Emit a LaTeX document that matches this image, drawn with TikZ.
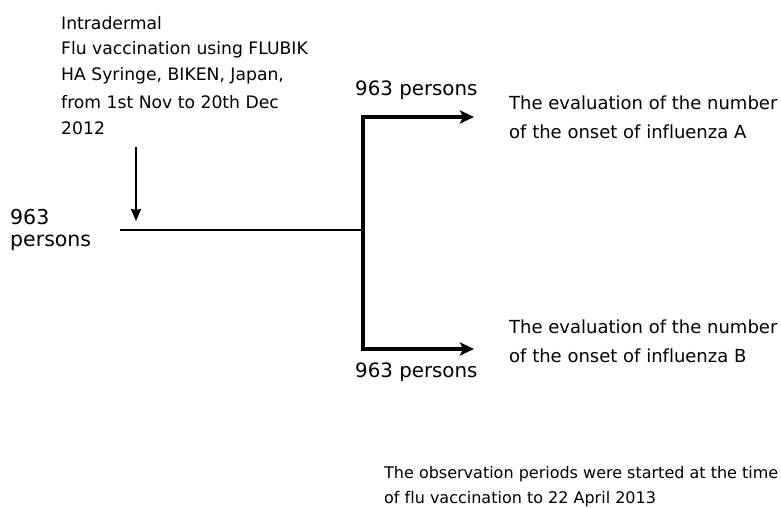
\documentclass[tikz,border=0pt]{standalone}
\usepackage{fontspec}
\setmainfont[Ligatures=NoCommon]{DejaVu Sans}
\usetikzlibrary{arrows.meta}
\begin{document}
\begin{tikzpicture}[x=1pt,y=1pt,
  lbl/.style={anchor=west,inner sep=0pt,font=\fontsize{#1}{#1}\selectfont},
  lbl/.default=18,
  thin/.style={line width=2pt},
  thick/.style={line width=4pt,line join=miter,-{Stealth[length=14pt,width=13pt,inset=3pt]}}]
\useasboundingbox (0,0) rectangle (781,-508);
% vaccination text
\node[lbl=17.2] (t1) at (61,-23) {Intradermal};
\node[lbl=17.2] (t2) at (61,-50) {Flu vaccination using FLUBIK};
\node[lbl=17.2] (t3) at (61,-76) {HA Syringe, BIKEN, Japan,};
\node[lbl=17.2] (t4) at (61,-102) {from 1st Nov to 20th Dec};
\node[lbl=17.2] (t5) at (61,-128) {2012};
% left count
\node[lbl=20.5] (n1) at (10,-217) {963};
\node[lbl=20.5] (n2) at (10,-243) {persons};
% coordinates
\coordinate (arTop) at (136,-147);
\coordinate (arBot) at (136,-221);
\coordinate (start) at (120,-230);
\coordinate (branch) at (363,-230);
\coordinate (aEnd) at (474,-117);
\coordinate (bEnd) at (474,-349);
% lines
\draw[thin,-{Stealth[length=12pt,width=10pt,inset=1pt]}] (arTop) -- (arBot);
\draw[thin] (start) -- (branch);
\draw[thick] (branch) |- (aEnd);
\draw[thick] (branch) |- (bEnd);
% counts on branches
\node[lbl=19.8] (ca) at (355,-90) {963 persons};
\node[lbl=19.8] (cb) at (355,-372) {963 persons};
% outcomes
\node[lbl=18] (a1) at (509,-103) {The evaluation of the number};
\node[lbl=18] (a2) at (509,-132) {of the onset of influenza A};
\node[lbl=18] (b1) at (509,-327) {The evaluation of the number};
\node[lbl=18] (b2) at (509,-356) {of the onset of influenza B};
% observation
\node[lbl=16] (o1) at (384,-474) {The observation periods were started at the time};
\node[lbl=16] (o2) at (384,-499) {of flu vaccination to 22 April 2013};
\end{tikzpicture}
\end{document}
